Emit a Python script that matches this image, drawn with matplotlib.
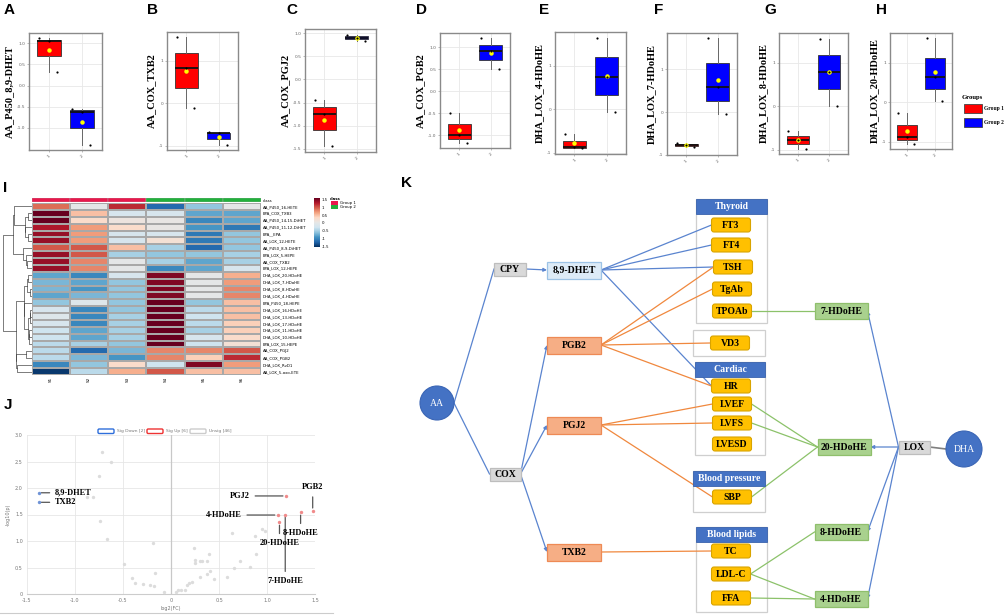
import numpy as np
import matplotlib
matplotlib.use("Agg")
import matplotlib.pyplot as plt
from matplotlib.patches import Rectangle, FancyBboxPatch, Circle
from matplotlib.colors import LinearSegmentedColormap

W, H = 1008, 616
SERIF = "Liberation Serif"
SANS = "Liberation Sans"

# ---------------- data: panels A-H ----------------
box_names = ["AA_P450_8,9-DHET", "AA_COX_TXB2", "AA_COX_PGJ2", "AA_COX_PGB2",
             "DHA_LOX_4-HDoHE", "DHA_LOX_7-HDoHE", "DHA_LOX_8-HDoHE", "DHA_LOX_20-HDoHE"]
group1_values = [[1.12, 1.05, 0.33], [1.55, 0.83, -0.10], [-0.45, -0.75, -1.45],
                 [-0.50, -1.00, -1.17], [-0.57, -0.87, -0.90], [-0.73, -0.77, -0.82],
                 [-0.57, -0.78, -0.97], [-0.27, -0.87, -1.05]]
group2_values = [[-0.55, -0.62, -1.40], [-0.67, -0.70, -0.97], [0.97, 0.90, 0.83],
                 [1.20, 0.90, 0.50], [1.65, 0.75, -0.07], [1.72, 0.58, -0.04],
                 [1.55, 0.78, 0.00], [1.62, 0.63, 0.03]]
box_yticks = [[-1.0, -0.5, 0.0, 0.5, 1.0], [-1, 0, 1], [-1.5, -1.0, -0.5, 0.0, 0.5, 1.0],
              [-1.0, -0.5, 0.0, 0.5, 1.0], [-1, 0, 1], [-1, 0, 1], [-1, 0, 1], [-1, 0, 1]]
group_names = ["Group 1", "Group 2"]

# ---------------- data: panel I heatmap ----------------
heat_rows = ["AA_P450_16-HETE", "EPA_COX_TXB3", "AA_P450_14,15-DiHET", "AA_P450_11,12-DiHET",
             "EPA__EPA", "AA_LOX_12-HETE", "AA_P450_8,9-DiHET", "EPA_LOX_5-HEPE",
             "AA_COX_TXB2", "EPA_LOX_12-HEPE", "DHA_LOX_20-HDoHE", "DHA_LOX_7-HDoHE",
             "DHA_LOX_8-HDoHE", "DHA_LOX_4-HDoHE", "EPA_P450_18-HEPE", "DHA_LOX_16-HDoHE",
             "DHA_LOX_13-HDoHE", "DHA_LOX_17-HDoHE", "DHA_LOX_11-HDoHE", "DHA_LOX_10-HDoHE",
             "EPA_LOX_15-HEPE", "AA_COX_PGJ2", "AA_COX_PGB2", "DHA_LOX_RvD1", "AA_LOX_5-oxo-ETE"]
heat_cols = ["S1", "S2", "S3", "S4", "S5", "S6"]
heat_class = ["Group 1", "Group 1", "Group 1", "Group 2", "Group 2", "Group 2"]
heat_values = [
    [0.9, 0.0, 1.2, -1.2, -0.6, 0.0],
    [1.6, 0.5, -0.2, -0.2, -0.8, -0.8],
    [1.6, 0.3, 0.1, 0.05, -1.0, -0.8],
    [1.3, 0.7, 0.3, 0.05, -0.9, -1.1],
    [1.4, 0.7, -0.2, -0.2, -1.1, -0.6],
    [1.4, 0.7, -0.2, 0.2, -1.1, -0.6],
    [1.0, 1.0, 0.5, -0.5, -1.2, -0.6],
    [1.4, 1.0, -0.5, -0.6, -0.6, -0.5],
    [1.4, 0.8, 0.0, -0.5, -0.8, -0.5],
    [1.4, 0.8, 0.0, -1.0, -0.8, -0.2],
    [-0.8, -1.0, -0.2, 1.5, 0.0, 0.6],
    [-0.7, -0.8, -0.6, 1.5, 0.0, 0.7],
    [-0.7, -0.9, -0.6, 1.5, 0.0, 0.8],
    [-0.8, -0.7, -0.6, 1.5, 0.0, 0.8],
    [-0.6, -0.1, -0.6, 1.6, -0.6, 0.5],
    [-0.2, -1.0, -0.6, 1.6, -0.4, 0.5],
    [-0.1, -1.0, -0.5, 1.6, -0.3, 0.5],
    [-0.2, -1.0, -0.5, 1.6, -0.4, 0.4],
    [-0.3, -0.8, -0.5, 1.7, -0.5, 0.4],
    [-0.3, -0.8, -0.5, 1.7, -0.2, 0.3],
    [-0.4, -0.5, -0.6, 1.7, -0.3, 0.2],
    [-0.4, -1.2, -0.7, 0.8, 0.8, 1.0],
    [-0.4, -0.7, -0.9, 0.8, 0.4, 1.2],
    [-1.0, -0.6, 0.3, -0.3, 1.5, 0.7],
    [-1.5, -0.4, 0.6, 1.0, 0.5, 0.5],
]
# row tree (leaf order = row order)
row_tree = (((0, ((1, 2), (3, (4, 5)))), (6, (7, (8, 9)))),
            ((((10, 11), (12, 13)), (14, (((15, 16), 17), ((18, 19), 20)))),
             ((21, 22), (23, 24))))

# ---------------- data: panel J volcano ----------------
unsig_fc = [-0.72, -0.63, -0.75, -0.87, -0.81, -0.74, -0.67, -0.19, -0.49, -0.41,
            -0.37, -0.29, -0.22, -0.17, -0.18, -0.07, 0.05, 0.07, 0.10, 0.15,
            0.17, 0.19, 0.22, 0.24, 0.25, 0.255, 0.30, 0.32, 0.38, 0.40,
            0.41, 0.45, 0.58, 0.64, 0.66, 0.72, 0.82, 0.88, 0.89, 0.95,
            0.98, 0.38, 0.30]
unsig_p = [2.68, 2.50, 2.23, 1.83, 1.83, 1.38, 1.04, 0.96, 0.56, 0.31,
           0.21, 0.19, 0.17, 0.39, 0.16, 0.04, 0.03, 0.08, 0.075, 0.08,
           0.17, 0.21, 0.23, 0.875, 0.59, 0.64, 0.62, 0.62, 0.62, 0.76,
           0.44, 0.29, 0.32, 1.16, 0.49, 0.62, 0.51, 1.09, 0.76, 1.22,
           1.19, 0.38, 0.32]
down_names = ["8,9-DHET", "TXB2"]
down_fc = [-1.38, -1.38]
down_p = [1.91, 1.73]
up_names = ["PGJ2", "PGB2", "4-HDoHE", "7-HDoHE", "8-HDoHE", "20-HDoHE"]
up_fc = [1.195, 1.476, 1.11, 1.19, 1.35, 1.13]
up_p = [1.85, 1.57, 1.49, 1.50, 1.54, 1.35]

# ---------------- data: panel K network ----------------
aa_edges = [("AA", "CPY"), ("AA", "COX")]
enzyme_edges = [("CPY", "8,9-DHET"), ("COX", "PGB2"), ("COX", "PGJ2"), ("COX", "TXB2")]
lox_edges = [("LOX", "7-HDoHE"), ("LOX", "20-HDoHE"), ("LOX", "8-HDoHE"), ("LOX", "4-HDoHE")]
dhet_links = [("8,9-DHET", "FT3"), ("8,9-DHET", "FT4"), ("8,9-DHET", "TSH"), ("8,9-DHET", "HR")]
cox_links = [("PGB2", "TSH"), ("PGB2", "TgAb"), ("PGB2", "VD3"), ("PGB2", "HR"),
             ("PGJ2", "LVEF"), ("PGJ2", "LVFS"), ("PGJ2", "SBP"), ("TXB2", "TC")]
dha_links = [("TPOAb", "7-HDoHE"), ("LVEF", "20-HDoHE"), ("LVFS", "20-HDoHE"),
             ("SBP", "20-HDoHE"), ("LDL-C", "8-HDoHE"), ("LDL-C", "4-HDoHE"), ("FFA", "4-HDoHE")]
clinical_groups = ["Thyroid", "", "Cardiac", "Blood pressure", "Blood lipids"]
clinical_items = [["FT3", "FT4", "TSH", "TgAb", "TPOAb"], ["VD3"], ["HR", "LVEF", "LVFS", "LVESD"],
                  ["SBP"], ["TC", "LDL-C", "FFA"]]

# ---------------- layout ----------------
fig = plt.figure(figsize=(W / 100, H / 100), dpi=100)


def rect(x0, y0, x1, y1):
    return [x0 / W, 1 - y1 / H, (x1 - x0) / W, (y1 - y0) / H]


ov = fig.add_axes([0, 0, 1, 1])
ov.set_xlim(0, W)
ov.set_ylim(H, 0)
ov.axis("off")

letters = {"A": (4, 3), "B": (147, 3), "C": (286, 3), "D": (416, 3), "E": (539, 3), "F": (654, 3),
           "G": (764, 3), "H": (876, 3), "I": (3, 181), "J": (4, 398), "K": (401, 176)}
for k, (x, y) in letters.items():
    ov.text(x, y, k, fontsize=11, fontweight="bold", family=SANS, va="top", ha="left")

# ---------- A-H box plots ----------
box_rects = [(29, 33, 102, 150), (167, 32, 238, 150), (305, 29, 376, 152), (440, 33, 510, 148),
             (555, 32, 626, 154), (667, 33, 737, 155), (779, 33, 848, 154), (890, 33, 952, 149)]
jitter = [-0.3, 0.0, 0.25]
box_colors = ["#ff0000", "#0000ff"]
for i in range(8):
    ax = fig.add_axes(rect(*box_rects[i]))
    data = [group1_values[i], group2_values[i]]
    bp = ax.boxplot(data, positions=[1, 2], widths=0.72, patch_artist=True, showmeans=True,
                    showcaps=False, showfliers=False,
                    medianprops=dict(color="#111111", lw=1.3),
                    whiskerprops=dict(color="#666666", lw=0.7),
                    meanprops=dict(marker="o", markerfacecolor="#ffff00", markeredgecolor="#ffff00",
                                   markersize=2.2))
    for patch, c in zip(bp["boxes"], box_colors):
        patch.set_facecolor(c)
        patch.set_edgecolor("#333333")
        patch.set_linewidth(0.6)
    for g, vals in enumerate(data):
        xs = [g + 1 + j for j in jitter[:len(vals)]]
        ax.scatter(xs, vals, s=2.5, color="black", zorder=4, lw=0)
    ax.set_xlim(0.4, 2.6)
    ax.set_xticks([1, 2])
    ax.set_xticklabels(["1", "2"], rotation=45, fontsize=3.2, color="#555555")
    ticks = box_yticks[i]
    ax.set_yticks(ticks)
    if any(isinstance(t, float) for t in ticks):
        ax.set_yticklabels(["%.1f" % t for t in ticks])
    else:
        ax.set_yticklabels(["%d" % t for t in ticks])
    ax.tick_params(axis="both", labelsize=3.2, labelcolor="#666666", length=1.5, width=0.4,
                   color="#888888", pad=1)
    ax.set_axisbelow(True)
    ax.grid(True, color="#e8e8e8", lw=0.6)
    for s in ax.spines.values():
        s.set_color("#8a8a8a")
        s.set_linewidth(1.0)
    ax.set_ylabel(box_names[i], family=SERIF, fontweight="bold", fontsize=7.5, labelpad=2)

# Groups legend
ov.text(962, 97, "Groups", family=SERIF, fontweight="bold", fontsize=4.8, va="center")
for j, (name, c) in enumerate(zip(group_names, box_colors)):
    y = 104 + j * 14
    ov.add_patch(Rectangle((964, y), 18, 9, facecolor=c, edgecolor="#444444", lw=0.6))
    ov.text(984, y + 4.5, name, family=SERIF, fontweight="bold", fontsize=4.0, va="center")

# ---------- I heatmap ----------
hv = np.array(heat_values)
cmap = LinearSegmentedColormap.from_list(
    "hm", ["#053061", "#2166ac", "#4393c3", "#92c5de", "#d1e5f0", "#e6e6e6",
           "#fddbc7", "#f4a582", "#d6604d", "#b2182b", "#67001f"])
axh = fig.add_axes(rect(32, 203, 261, 375))
mesh = axh.pcolormesh(hv, cmap=cmap, vmin=-1.55, vmax=1.6, edgecolors="#a8a8a8", linewidth=0.3)
axh.set_xlim(0, hv.shape[1])
axh.set_ylim(hv.shape[0], 0)
axh.set_xticks(np.arange(hv.shape[1]) + 0.5)
axh.set_xticklabels(heat_cols, rotation=90, fontsize=3)
axh.yaxis.tick_right()
axh.set_yticks(np.arange(hv.shape[0]) + 0.5)
axh.set_yticklabels(heat_rows, fontsize=2.8)
axh.tick_params(length=0, pad=1.5)
for s in axh.spines.values():
    s.set_visible(False)

class_colors = {"Group 1": "#e8184c", "Group 2": "#22b03c"}
axc = fig.add_axes(rect(32, 198, 261, 202.5))
for j, c in enumerate(heat_class):
    axc.add_patch(Rectangle((j, 0), 1, 1, facecolor=class_colors[c], edgecolor="#a8a8a8", lw=0.3))
axc.set_xlim(0, len(heat_class))
axc.set_ylim(0, 1)
axc.axis("off")
ov.text(263, 200.5, "class", fontsize=2.8, va="center")

axd = fig.add_axes(rect(3, 203, 32, 375))


def draw_tree(node):
    if isinstance(node, int):
        return node + 0.5, 0.0, [node]
    a = draw_tree(node[0])
    b = draw_tree(node[1])
    members = a[2] + b[2]
    dist = np.linalg.norm(hv[a[2]].mean(0) - hv[b[2]].mean(0))
    h = max(dist, a[1], b[1]) + 0.03
    axd.plot([a[1], h, h, b[1]], [a[0], a[0], b[0], b[0]], color="#333333", lw=0.45)
    return (a[0] + b[0]) / 2, h, members


_, root_h, _ = draw_tree(row_tree)
axd.set_xlim(root_h, 0)
axd.set_ylim(hv.shape[0], 0)
axd.axis("off")

axcb = fig.add_axes(rect(314, 198, 319.5, 247))
cb = fig.colorbar(mesh, cax=axcb, ticks=[-1.5, -1, -0.5, 0, 0.5, 1, 1.5])
cb.ax.set_yticklabels(["-1.5", "-1", "-0.5", "0", "0.5", "1", "1.5"])
cb.ax.tick_params(labelsize=2.8, length=0, pad=1.5)
cb.outline.set_visible(False)
ov.text(330, 198.5, "class", fontsize=2.8, fontweight="bold", va="center")
for j, name in enumerate(group_names):
    ov.add_patch(Rectangle((331, 201 + j * 4), 7, 4, facecolor=class_colors[name], lw=0))
    ov.text(340, 203 + j * 4, name, fontsize=2.8, va="center")

# ---------- J volcano ----------
axv = fig.add_axes(rect(27, 435, 315, 594))
axv.scatter(unsig_fc, unsig_p, s=6, color="#dcdcdc", lw=0, zorder=3)
axv.scatter(down_fc, down_p, s=6, color="#6f93d6", lw=0, zorder=4)
axv.scatter(up_fc, up_p, s=6, color="#f08a8a", lw=0, zorder=4)
axv.set_xlim(-1.5, 1.5)
axv.set_ylim(0, 3.0)
axv.set_xticks([-1.5, -1.0, -0.5, 0, 0.5, 1.0, 1.5])
axv.set_xticklabels(["-1.5", "-1.0", "-0.5", "0", "0.5", "1.0", "1.5"])
axv.set_yticks([0, 0.5, 1.0, 1.5, 2.0, 2.5, 3.0])
axv.set_yticklabels(["0", "0.5", "1.0", "1.5", "2.0", "2.5", "3.0"])
axv.tick_params(labelsize=3.5, labelcolor="#777777", length=0, pad=3)
axv.grid(True, color="#e6e6e6", lw=0.6)
axv.set_axisbelow(True)
axv.axvline(0, color="#c8c8c8", lw=0.9, zorder=1)
for s in ["top", "right", "left"]:
    axv.spines[s].set_visible(False)
axv.spines["bottom"].set_color("#cccccc")
axv.set_xlabel("log2(FC)", fontsize=3.5, color="#777777", labelpad=2)
axv.set_ylabel("-log10(p)", fontsize=3.5, color="#777777", labelpad=3)

lab = dict(family=SERIF, fontweight="bold", fontsize=6)
arr = dict(arrowstyle="-", color="#555555", lw=0.9)
for name, x, y in zip(down_names, down_fc, down_p):
    axv.annotate(name, (x, y), xytext=(12, 0), textcoords="offset points", va="center",
                 arrowprops=arr, **lab)
up_offsets = {"PGJ2": (-26, 0, "right", "center"), "PGB2": (0, 14, "center", "bottom"),
              "4-HDoHE": (-26, 0, "right", "center"), "7-HDoHE": (0, -45, "center", "top"),
              "8-HDoHE": (0, -12, "center", "top"), "20-HDoHE": (0, -12, "center", "top")}
for name, x, y in zip(up_names, up_fc, up_p):
    dx, dy, ha, va = up_offsets[name]
    axv.annotate(name, (x, y), xytext=(dx, dy), textcoords="offset points", ha=ha, va=va,
                 arrowprops=arr, **lab)

leg_items = [("Sig Down [2]", "#2f6fdb"), ("Sig Up [6]", "#ee3333"), ("Unsig [46]", "#cccccc")]
lx = [98, 147, 190]
for (txt, c), x in zip(leg_items, lx):
    ov.add_patch(FancyBboxPatch((x, 429), 16, 4.5, boxstyle="round,pad=0,rounding_size=1.2",
                                facecolor="white", edgecolor=c, lw=1.0))
    ov.text(x + 19, 431, txt, fontsize=3.2, color="#777777", va="center")
ov.plot([0, 333], [613, 613], color="#cccccc", lw=0.8)

# ---------- K network ----------
BLUE, ORANGE, GREEN = "#5a84cf", "#f0883e", "#8cc26a"
pos = {"AA": (437, 403), "DHA": (964, 449), "CPY": (510, 269), "COX": (505, 474),
       "LOX": (914, 447), "8,9-DHET": (574, 270), "PGB2": (574, 345), "PGJ2": (574, 425),
       "TXB2": (574, 552), "FT3": (731, 225), "FT4": (731, 245), "TSH": (733, 267),
       "TgAb": (732, 289), "TPOAb": (732, 311), "VD3": (730, 343), "HR": (731, 386),
       "LVEF": (732, 404), "LVFS": (732, 423), "LVESD": (732, 444), "SBP": (732, 497),
       "TC": (731, 551), "LDL-C": (731, 574), "FFA": (731, 598), "7-HDoHE": (841, 311),
       "20-HDoHE": (844, 447), "8-HDoHE": (841, 532), "4-HDoHE": (841, 599)}
size = {"CPY": (32, 13), "COX": (31, 13), "LOX": (31, 13)}
for n in ["8,9-DHET", "PGB2", "PGJ2", "TXB2"]:
    size[n] = (54, 17)
for n in ["7-HDoHE", "20-HDoHE", "8-HDoHE", "4-HDoHE"]:
    size[n] = (53, 16)
for items in clinical_items:
    for n in items:
        size[n] = (39, 14)
radius = {"AA": 17, "DHA": 18}


def right(n):
    if n in radius:
        return pos[n][0] + radius[n], pos[n][1]
    return pos[n][0] + size[n][0] / 2, pos[n][1]


def left(n):
    if n in radius:
        return pos[n][0] - radius[n], pos[n][1]
    return pos[n][0] - size[n][0] / 2, pos[n][1]


def link(a, b, color, arrow=False, lw=0.9):
    if arrow:
        ov.annotate("", xy=b, xytext=a, arrowprops=dict(arrowstyle="-|>", color=color, lw=lw,
                                                        mutation_scale=5, shrinkA=0, shrinkB=0))
    else:
        ov.plot([a[0], b[0]], [a[1], b[1]], color=color, lw=lw, zorder=2)


# group frames
frames = [(696, 199, 767, 323), (693, 330, 765, 356), (695, 362, 765, 455),
          (693, 471, 765, 512), (696, 527, 767, 612)]
for title, (x0, y0, x1, y1) in zip(clinical_groups, frames):
    ov.add_patch(Rectangle((x0, y0), x1 - x0, y1 - y0, facecolor="white", edgecolor="#cfcfcf",
                           lw=0.9, zorder=1))
    if title:
        ov.add_patch(Rectangle((x0, y0), x1 - x0, 15, facecolor="#4472c4", edgecolor="#3a62ad",
                               lw=0.6, zorder=3))
        ov.text((x0 + x1) / 2, y0 + 7.5, title, color="white", family=SERIF, fontweight="bold",
                fontsize=7, ha="center", va="center", zorder=4)

for a, b in aa_edges:
    link(right(a), left(b), BLUE)
for a, b in enzyme_edges:
    link(right(a), left(b), BLUE, arrow=True)
for a, b in dhet_links:
    link(right(a), left(b), BLUE)
for a, b in cox_links:
    link(right(a), left(b), ORANGE)
for a, b in dha_links:
    link(right(a), left(b), GREEN)
for a, b in lox_edges:
    link(left(a), right(b), BLUE, arrow=True)
link(right("LOX"), left("DHA"), "#7f7f7f", lw=1.2)

node_style = {}
for n in ["CPY", "COX", "LOX"]:
    node_style[n] = ("#d9d9d9", "#bdbdbd", False)
node_style["8,9-DHET"] = ("#ddebf7", "#9dc3e6", False)
for n in ["PGB2", "PGJ2", "TXB2"]:
    node_style[n] = ("#f6ae85", "#ee8a55", False)
for n in ["7-HDoHE", "20-HDoHE", "8-HDoHE", "4-HDoHE"]:
    node_style[n] = ("#a9d18e", "#8fbf6c", False)
for items in clinical_items:
    for n in items:
        node_style[n] = ("#ffc000", "#d9a400", True)

for n, (fc, ec, rounded) in node_style.items():
    w, h = size[n]
    x, y = pos[n]
    if rounded:
        p = FancyBboxPatch((x - w / 2, y - h / 2), w, h, boxstyle="round,pad=0,rounding_size=2.5",
                           facecolor=fc, edgecolor=ec, lw=0.8, zorder=5)
    else:
        p = Rectangle((x - w / 2, y - h / 2), w, h, facecolor=fc, edgecolor=ec, lw=0.9, zorder=5)
    ov.add_patch(p)
    ov.text(x, y + 0.5, n, family=SERIF, fontweight="bold", fontsize=7, ha="center", va="center",
            zorder=6)

for n, r in radius.items():
    ov.add_patch(Circle(pos[n], r, facecolor="#4472c4", edgecolor="#3a65b5", lw=0.8, zorder=5))
    ov.text(pos[n][0], pos[n][1], n, family=SERIF, color="white", fontsize=7, ha="center",
            va="center", zorder=6)

fig.savefig("out.png", dpi=100)
